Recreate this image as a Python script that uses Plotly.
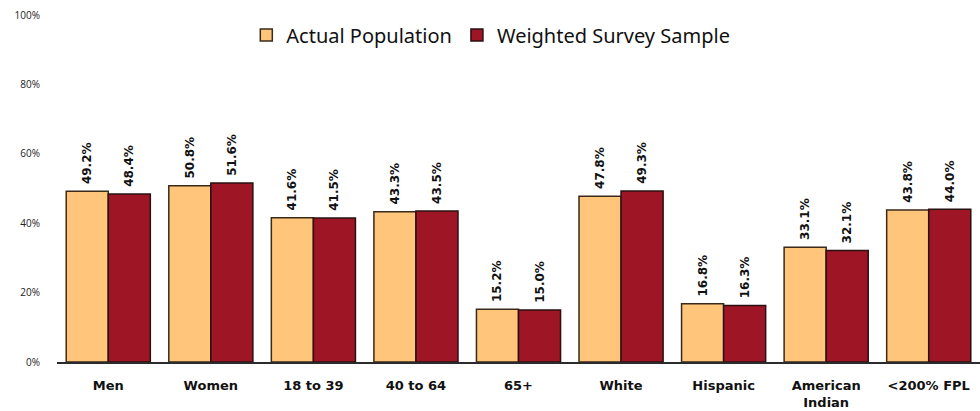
import plotly.graph_objects as go

categories = ["Men", "Women", "18 to 39", "40 to 64", "65+", "White", "Hispanic", "American<br>Indian", "<200% FPL"]
actual_population = [0.492, 0.508, 0.416, 0.433, 0.152, 0.478, 0.168, 0.331, 0.438]
weighted_sample = [0.484, 0.516, 0.415, 0.435, 0.150, 0.493, 0.163, 0.321, 0.440]
y_ticks = [0, 0.2, 0.4, 0.6, 0.8, 1.0]

label_font = dict(family="DejaVu Sans", size=12, color="#111111")

def labels(vals):
    return [f"<b>\u00a0{v*100:.1f}%</b>" for v in vals]

fig = go.Figure()
fig.add_trace(go.Bar(
    x=categories, y=actual_population, name="Actual Population",
    marker=dict(color="#FFC57A", line=dict(color="#3a2a1a", width=1.5)),
    text=labels(actual_population), constraintext="none",
    textposition="outside", textangle=-90, textfont=label_font, cliponaxis=False,
))
fig.add_trace(go.Bar(
    x=categories, y=weighted_sample, name="Weighted Survey Sample",
    marker=dict(color="#9E1526", line=dict(color="#2a1010", width=1.5)),
    text=labels(weighted_sample), constraintext="none",
    textposition="outside", textangle=-90, textfont=label_font, cliponaxis=False,
))

fig.update_layout(
    width=980, height=411,
    margin=dict(l=57, r=0, t=15, b=49, autoexpand=False),
    paper_bgcolor="white", plot_bgcolor="white",
    barmode="group", bargap=0.18, bargroupgap=0.0,
    legend=dict(
        orientation="h", xref="paper", yref="paper",
        x=0.47, xanchor="center", y=1 - 20/347, yanchor="middle",
        font=dict(family="Noto Sans", size=20, color="#111111"),
        bgcolor="rgba(0,0,0,0)", itemwidth=30,
    ),
    xaxis=dict(
        showline=True, linecolor="#2b2b2b", linewidth=2,
        ticks="outside", ticklen=10, tickcolor="rgba(0,0,0,0)",
        tickfont=dict(family="DejaVu Sans", size=13, color="#111111", weight="bold"),
        showgrid=False,
    ),
    yaxis=dict(
        range=[0, 1.0], tickvals=y_ticks, tickformat=".0%",
        showgrid=False, showline=False, zeroline=False,
        ticks="outside", ticklen=14, tickcolor="rgba(0,0,0,0)",
        tickfont=dict(family="Open Sans", size=10, color="#222222"),
    ),
)

fig.write_html("out.html")
